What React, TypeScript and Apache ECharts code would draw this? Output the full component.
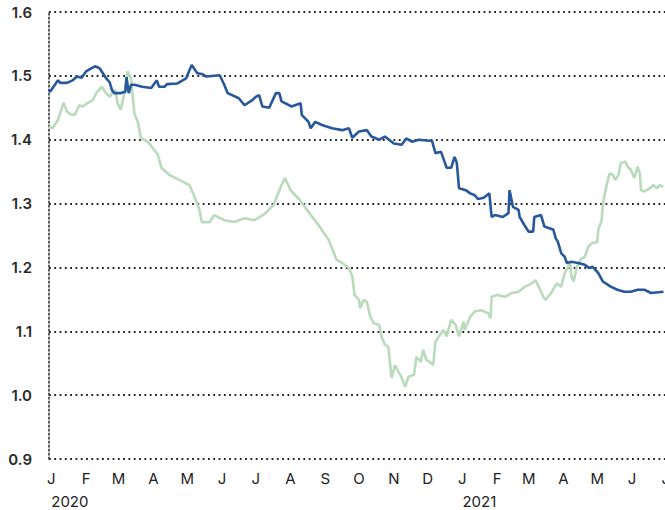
import React, { useEffect, useRef } from "react";
import * as echarts from "echarts";

// Blue series
const blueDates = [
  "2019-12-30","2019-12-31","2020-01-07","2020-01-09","2020-01-15","2020-01-20","2020-01-24","2020-01-28",
  "2020-02-01","2020-02-06","2020-02-09","2020-02-13","2020-02-16","2020-02-19","2020-02-22","2020-02-24","2020-02-26",
  "2020-03-03","2020-03-07","2020-03-08","2020-03-10","2020-03-12","2020-03-15","2020-03-22","2020-03-30",
  "2020-04-04","2020-04-06","2020-04-11","2020-04-13","2020-04-22","2020-04-30",
  "2020-05-05","2020-05-10","2020-05-14","2020-05-18","2020-05-30",
  "2020-06-03","2020-06-06","2020-06-16","2020-06-21","2020-06-28",
  "2020-07-01","2020-07-04","2020-07-07","2020-07-13","2020-07-19","2020-07-22","2020-07-24",
  "2020-08-02","2020-08-10","2020-08-11","2020-08-17","2020-08-19","2020-08-23","2020-08-29",
  "2020-09-07","2020-09-16","2020-09-22","2020-09-25",
  "2020-10-01","2020-10-08","2020-10-12","2020-10-19","2020-10-24",
  "2020-11-01","2020-11-08","2020-11-12","2020-11-17","2020-11-23",
  "2020-12-05","2020-12-08","2020-12-13","2020-12-18","2020-12-22","2020-12-25","2020-12-27","2020-12-29",
  "2021-01-04","2021-01-08","2021-01-12","2021-01-15","2021-01-20","2021-01-25","2021-01-27","2021-01-30",
  "2021-02-06","2021-02-11","2021-02-12","2021-02-15","2021-02-20","2021-02-21","2021-02-26",
  "2021-03-01","2021-03-05","2021-03-06","2021-03-12","2021-03-15","2021-03-20","2021-03-23","2021-03-25","2021-03-27","2021-03-30",
  "2021-04-02","2021-04-04","2021-04-08","2021-04-14","2021-04-20","2021-04-24","2021-04-27",
  "2021-05-02","2021-05-06","2021-05-13","2021-05-19","2021-05-25","2021-05-31",
  "2021-06-06","2021-06-12","2021-06-18","2021-06-29",
];
const blueValues = [
  1.478,1.475,1.493,1.489,1.489,1.493,1.499,1.497,
  1.507,1.512,1.515,1.512,1.504,1.496,1.490,1.478,1.473,
  1.473,1.475,1.498,1.473,1.486,1.486,1.483,1.481,
  1.493,1.483,1.483,1.487,1.488,1.496,
  1.517,1.504,1.503,1.499,1.501,
  1.486,1.473,1.465,1.454,1.462,
  1.467,1.470,1.452,1.450,1.473,1.473,1.460,
  1.452,1.457,1.439,1.428,1.418,1.428,1.423,
  1.418,1.415,1.418,1.403,
  1.413,1.415,1.405,1.400,1.405,
  1.394,1.392,1.402,1.397,1.400,
  1.398,1.379,1.381,1.356,1.356,1.373,1.364,1.324,
  1.321,1.316,1.313,1.307,1.309,1.316,1.279,1.282,
  1.279,1.285,1.321,1.295,1.290,1.279,1.264,
  1.256,1.256,1.279,1.282,1.264,1.261,1.259,1.246,1.240,1.222,
  1.217,1.207,1.209,1.207,1.204,1.199,1.201,
  1.191,1.178,1.170,1.165,1.162,1.162,
  1.165,1.165,1.160,1.162,
];

// Green series
const greenDates = [
  "2019-12-30","2019-12-31","2020-01-02","2020-01-07","2020-01-10","2020-01-12","2020-01-15","2020-01-19","2020-01-22","2020-01-26","2020-01-29",
  "2020-02-03","2020-02-07","2020-02-10","2020-02-15","2020-02-18","2020-02-22","2020-02-25","2020-02-27","2020-02-29",
  "2020-03-03","2020-03-06","2020-03-09","2020-03-12","2020-03-15","2020-03-18","2020-03-21","2020-03-24","2020-03-28",
  "2020-04-05","2020-04-08","2020-04-15","2020-04-24",
  "2020-05-03","2020-05-07","2020-05-12","2020-05-14","2020-05-21","2020-05-25",
  "2020-06-03","2020-06-12","2020-06-21","2020-06-30",
  "2020-07-09","2020-07-17","2020-07-24","2020-07-27",
  "2020-08-01","2020-08-09","2020-08-17","2020-08-26",
  "2020-09-04","2020-09-11","2020-09-16","2020-09-22","2020-09-25","2020-09-27",
  "2020-10-01","2020-10-02","2020-10-05","2020-10-08","2020-10-11","2020-10-14","2020-10-19","2020-10-21","2020-10-24","2020-10-27","2020-10-29","2020-10-30",
  "2020-11-02","2020-11-05","2020-11-08","2020-11-11","2020-11-14","2020-11-19","2020-11-21","2020-11-25","2020-11-27","2020-11-30",
  "2020-12-03","2020-12-06","2020-12-08","2020-12-12","2020-12-15","2020-12-18","2020-12-22","2020-12-26","2020-12-29",
  "2021-01-02","2021-01-03","2021-01-08","2021-01-12","2021-01-18","2021-01-24","2021-01-26","2021-01-27",
  "2021-02-01","2021-02-08","2021-02-14","2021-02-20","2021-02-26",
  "2021-03-04","2021-03-07","2021-03-10","2021-03-14","2021-03-16","2021-03-21","2021-03-26","2021-03-30",
  "2021-04-02","2021-04-07","2021-04-08","2021-04-10","2021-04-13","2021-04-16","2021-04-20","2021-04-23","2021-04-26",
  "2021-05-01","2021-05-02","2021-05-05","2021-05-06","2021-05-09","2021-05-12","2021-05-15","2021-05-17","2021-05-20","2021-05-22","2021-05-26","2021-05-28","2021-05-31",
  "2021-06-03","2021-06-06","2021-06-08","2021-06-09","2021-06-12","2021-06-17","2021-06-20","2021-06-23","2021-06-26","2021-06-29",
];
const greenValues = [
  1.418,1.420,1.418,1.431,1.447,1.458,1.444,1.439,1.439,1.454,1.452,
  1.458,1.462,1.473,1.483,1.475,1.467,1.475,1.478,1.457,
  1.447,1.473,1.507,1.496,1.441,1.428,1.402,1.400,1.395,
  1.376,1.356,1.345,1.337,
  1.329,1.313,1.290,1.271,1.271,1.282,
  1.274,1.271,1.277,1.274,
  1.284,1.298,1.329,1.340,
  1.321,1.306,1.287,1.266,
  1.243,1.212,1.207,1.199,1.186,1.157,
  1.149,1.136,1.149,1.146,1.123,1.113,1.110,1.092,1.079,1.076,1.043,1.027,
  1.047,1.037,1.027,1.013,1.029,1.032,1.060,1.052,1.071,1.055,
  1.052,1.047,1.084,1.094,1.102,1.092,1.118,1.110,1.092,
  1.115,1.102,1.123,1.131,1.133,1.128,1.120,1.154,
  1.157,1.154,1.160,1.162,1.170,
  1.175,1.180,1.170,1.154,1.149,1.160,1.175,1.170,
  1.191,1.207,1.186,1.178,1.201,1.212,1.217,1.232,1.238,
  1.240,1.259,1.274,1.300,1.326,1.347,1.345,1.337,1.345,1.363,1.366,1.358,1.353,
  1.340,1.358,1.347,1.321,1.319,1.324,1.329,1.324,1.329,1.326,
];

// Axis ticks / labels
const monthTicks = [
  "2020-01-01","2020-02-01","2020-03-01","2020-04-01","2020-05-01","2020-06-01","2020-07-01","2020-08-01",
  "2020-09-01","2020-10-01","2020-11-01","2020-12-01","2021-01-01","2021-02-01","2021-03-01","2021-04-01",
  "2021-05-01","2021-06-01","2021-07-01",
];
const monthLabels = ["J","F","M","A","M","J","J","A","S","O","N","D","J","F","M","A","M","J","J"];
const yearTicks = ["2020-01-01", "2021-01-01"];
const yearLabels = ["2020", "2021"];
const yMin = 0.9;
const yMax = 1.6;
const yStep = 0.1;
const xStart = "2019-12-30";
const xEnd = "2021-07-05";

const ts = (s: string) => {
  const [y, m, d] = s.split("-").map(Number);
  return new Date(y, m - 1, d).getTime();
};

export default function App() {
  const ref = useRef<HTMLDivElement>(null);
  useEffect(() => {
    if (!ref.current) return;
    const chart = echarts.init(ref.current, undefined, { renderer: "svg" });
    const monthMap: Record<number, string> = {};
    monthTicks.forEach((t, i) => (monthMap[ts(t)] = monthLabels[i]));
    const yearMap: Record<number, string> = {};
    yearTicks.forEach((t, i) => (yearMap[ts(t)] = yearLabels[i]));
    const font = "Inter, 'Noto Sans', sans-serif";
    chart.setOption({
      animation: false,
      backgroundColor: "#ffffff",
      grid: { left: 49, right: 0, top: 12, bottom: 51, containLabel: false },
      xAxis: [
        {
          type: "value",
          min: ts(xStart),
          max: ts(xEnd),
          scale: true,
          axisLine: { show: false },
          axisTick: { show: false },
          splitLine: { show: false },
          axisLabel: {
            customValues: monthTicks.map(ts),
            formatter: (v: number) => monthMap[v] ?? "",
            color: "#222",
            fontSize: 15,
            fontFamily: font,
            margin: 12,
            hideOverlap: false,
          },
        },
        {
          type: "value",
          gridIndex: 0,
          position: "bottom",
          min: ts(xStart),
          max: ts(xEnd),
          scale: true,
          axisLine: { show: false },
          axisTick: { show: false },
          splitLine: { show: false },
          axisLabel: {
            customValues: yearTicks.map(ts),
            formatter: (v: number) => yearMap[v] ?? "",
            color: "#222",
            fontSize: 15,
            fontFamily: font,
            align: "left",
            margin: 35,
            hideOverlap: false,
          },
        },
      ],
      yAxis: {
        type: "value",
        min: yMin,
        max: yMax,
        interval: yStep,
        axisLine: {
          show: true,
          lineStyle: { color: "#333", width: 1.6, type: [1.6, 2.4] },
        },
        axisTick: { show: false },
        splitLine: {
          show: true,
          lineStyle: { color: "#222", width: 1.8, type: [1.8, 3.5] },
        },
        axisLabel: {
          formatter: (v: number) => v.toFixed(1),
          color: "#2a2a2a",
          fontSize: 15,
          fontWeight: 600,
          fontFamily: font,
          margin: 17,
          padding: [3, 0, 0, 0],
        },
      },
      series: [
        {
          type: "line",
          name: "green",
          xAxisIndex: 0,
          data: greenDates.map((d, i) => [ts(d), greenValues[i]]),
          showSymbol: false,
          lineStyle: { color: "#b9dbbc", width: 2.6 },
          itemStyle: { color: "#b9dbbc" },
          z: 2,
        },
        {
          type: "line",
          name: "blue",
          xAxisIndex: 0,
          data: blueDates.map((d, i) => [ts(d), blueValues[i]]),
          showSymbol: false,
          lineStyle: { color: "#28589c", width: 2.6 },
          itemStyle: { color: "#28589c" },
          z: 3,
        },
      ],
    });
    return () => chart.dispose();
  }, []);
  return (
    <div style={{ position: "fixed", left: 0, top: 0, width: 665, height: 510, overflow: "hidden", background: "#fff" }}>
      <div ref={ref} style={{ position: "absolute", left: 0, top: 0, width: 673, height: 510 }} />
    </div>
  );
}
